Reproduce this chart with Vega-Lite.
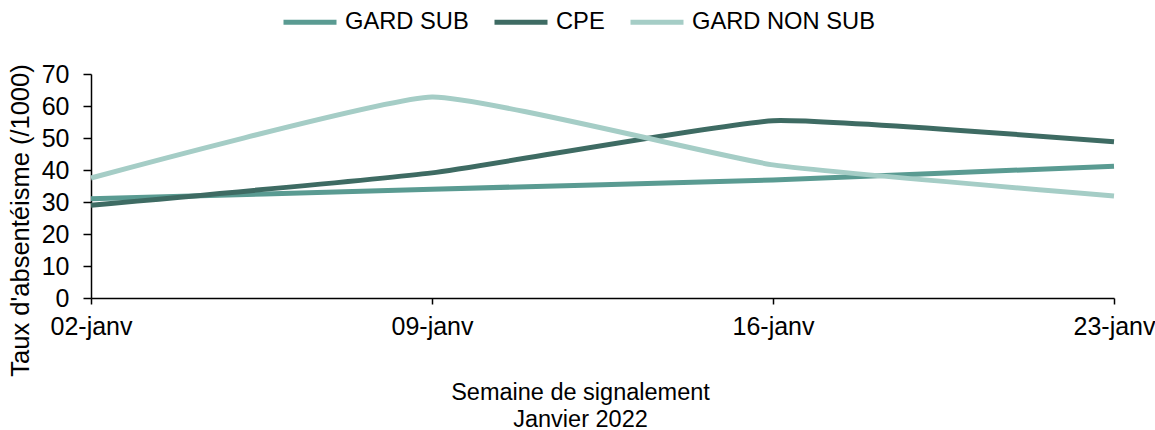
{
  "$schema": "https://vega.github.io/schema/vega-lite/v6.json",
  "autosize": "none",
  "width": 1023,
  "height": 224,
  "padding": {"left": 91, "top": 74, "right": 41, "bottom": 132},
  "background": "white",
  "config": {
    "font": "Liberation Sans",
    "view": {"stroke": null}
  },
  "data": {
    "values": [
      {"semaine": "02-janv", "serie": "GARD SUB", "taux": 31.0},
      {"semaine": "09-janv", "serie": "GARD SUB", "taux": 34.0},
      {"semaine": "16-janv", "serie": "GARD SUB", "taux": 36.9},
      {"semaine": "23-janv", "serie": "GARD SUB", "taux": 41.2},
      {"semaine": "02-janv", "serie": "CPE", "taux": 29.0},
      {"semaine": "09-janv", "serie": "CPE", "taux": 39.1},
      {"semaine": "16-janv", "serie": "CPE", "taux": 55.4},
      {"semaine": "23-janv", "serie": "CPE", "taux": 48.8},
      {"semaine": "02-janv", "serie": "GARD NON SUB", "taux": 37.5},
      {"semaine": "09-janv", "serie": "GARD NON SUB", "taux": 62.8},
      {"semaine": "16-janv", "serie": "GARD NON SUB", "taux": 41.6},
      {"semaine": "23-janv", "serie": "GARD NON SUB", "taux": 31.9}
    ]
  },
  "mark": {"type": "line", "strokeWidth": 5, "interpolate": "cardinal", "tension": 0.6, "strokeCap": "butt"},
  "encoding": {
    "x": {
      "field": "semaine",
      "type": "ordinal",
      "sort": null,
      "scale": {"type": "point", "padding": 0},
      "axis": {
        "title": ["Semaine de signalement", "Janvier 2022"],
        "titleFontSize": 23.5,
        "titleFontWeight": "normal",
        "titleColor": "black",
        "titleLineHeight": 27,
        "titleX": 489,
        "titleY": 82,
        "titleAnchor": null,
        "titleAlign": "center",
        "titleBaseline": "top",
        "labelAngle": 0,
        "labelFontSize": 25,
        "labelColor": "black",
        "labelPadding": 10,
        "labelBaseline": "top",
        "tickSize": 6,
        "tickColor": "black",
        "domainColor": "black",
        "domainWidth": 1.5,
        "tickWidth": 1.5,
        "grid": false
      }
    },
    "y": {
      "field": "taux",
      "type": "quantitative",
      "scale": {"domain": [0, 70], "nice": false},
      "axis": {
        "title": "Taux d'absentéisme (/1000)",
        "titleFontSize": 25.5,
        "titleFontWeight": "normal",
        "titleColor": "black",
        "titleX": -71,
        "titleY": 146,
        "titleAngle": -90,
        "titleAlign": "center",
        "titleBaseline": "middle",
        "titleAnchor": null,
        "values": [0, 10, 20, 30, 40, 50, 60, 70],
        "labelFontSize": 25,
        "labelColor": "black",
        "labelPadding": 14,
        "tickSize": 8,
        "tickColor": "black",
        "tickWidth": 1.5,
        "domainColor": "black",
        "domainWidth": 1.5,
        "grid": false
      }
    },
    "color": {
      "field": "serie",
      "type": "nominal",
      "scale": {
        "domain": ["GARD SUB", "CPE", "GARD NON SUB"],
        "range": ["#5A9B92", "#3E6B63", "#A5CDC6"]
      },
      "legend": {
        "orient": "none",
        "legendX": 190,
        "legendY": -81,
        "direction": "horizontal",
        "title": null,
        "symbolType": "stroke",
        "symbolSize": 2809,
        "symbolStrokeWidth": 5,
        "labelFontSize": 23.7,
        "labelColor": "black",
        "labelOffset": 6,
        "columnPadding": 15,
        "labelLimit": 400
      }
    }
  }
}
